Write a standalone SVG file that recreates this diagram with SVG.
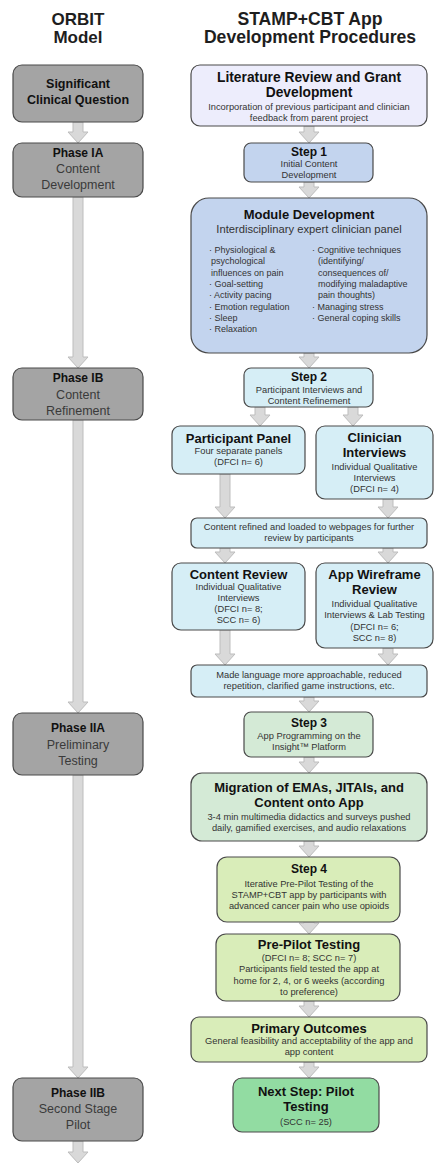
<svg xmlns="http://www.w3.org/2000/svg" width="435" height="1165" viewBox="0 0 435 1165">
  <style>
    text { font-family: "Liberation Sans", Arial, sans-serif; text-anchor: middle; fill: #2a2a2a; }
    .hdr { font-size: 17px; font-weight: bold; fill: #1e1e1e; }
    .box { stroke: #4a4a4a; stroke-width: 1.2; }
    .orbit { fill: #a4a4a4; }
    .lit { fill: #ededfc; }
    .blue { fill: #c3d4ee; }
    .cyan { fill: #d6eef6; }
    .mint { fill: #d4ead6; }
    .lime { fill: #d9edb9; }
    .green { fill: #92dca2; }
    .ph { font-size: 12px; font-weight: bold; fill: #111; }
    .pl { font-size: 12.5px; fill: #3a3a3a; }
    .t1 { font-size: 12px; font-weight: bold; fill: #111; }
    .t2 { font-size: 13px; font-weight: bold; fill: #111; }
    .sub { font-size: 9.3px; fill: #333; }
    .mid { font-size: 11.2px; fill: #333; }
    .bl { font-size: 9px; fill: #333; text-anchor: start; }
    .arrow { fill: #d9d9d9; stroke: #bdbdbd; stroke-width: 1; }
  </style>

  <!-- column headings -->
  <text class="hdr" x="78" y="25">ORBIT</text>
  <text class="hdr" x="78" y="43">Model</text>
  <text class="hdr" x="310" y="25" style="font-size:17.6px">STAMP+CBT App</text>
  <text class="hdr" x="310" y="43" style="font-size:17.6px">Development Procedures</text>

  <!-- block arrows: shaft 10 wide, head 20 wide -->
  <g id="connectors">
    <path class="arrow" d="M73 122V132H68L78 143L88 132H83V122Z"/>
    <path class="arrow" d="M73 197V357H68L78 368L88 357H83V197Z"/>
    <path class="arrow" d="M73 420V702H68L78 713L88 702H83V420Z"/>
    <path class="arrow" d="M73 775V1067H68L78 1078L88 1067H83V775Z"/>
    <path class="arrow" d="M73 1141V1152H68L78 1163L88 1152H83V1141Z"/>

    <path class="arrow" d="M304 126V132H299L309 143L319 132H314V126Z"/>
    <path class="arrow" d="M304 182V187H299L309 198L319 187H314V182Z"/>
    <path class="arrow" d="M304 353V357H299L309 368L319 357H314V353Z"/>
    <path class="arrow" d="M255 407V415H250L260 426L270 415H265V407Z"/>
    <path class="arrow" d="M348 407V415H343L353 426L363 415H358V407Z"/>
    <path class="arrow" d="M220 474V507H215L225 518L235 507H230V474Z"/>
    <path class="arrow" d="M383 499V507H378L388 518L398 507H393V499Z"/>
    <path class="arrow" d="M220 548V552H215L225 563L235 552H230V548Z"/>
    <path class="arrow" d="M383 548V552H378L388 563L398 552H393V548Z"/>
    <path class="arrow" d="M220 630V654H215L225 665L235 654H230V630Z"/>
    <path class="arrow" d="M383 648V654H378L388 665L398 654H393V648Z"/>
    <path class="arrow" d="M304 697V701H299L309 712L319 701H314V697Z"/>
    <path class="arrow" d="M304 757V762H299L309 773L319 762H314V757Z"/>
    <path class="arrow" d="M304 841V846H299L309 857L319 846H314V841Z"/>
    <path class="arrow" d="M304 922V923H299L309 934L319 923H314V922Z"/>
    <path class="arrow" d="M304 1001V1006H299L309 1017L319 1006H314V1001Z"/>
    <path class="arrow" d="M304 1062V1067H299L309 1078L319 1067H314V1062Z"/>
  </g>

  <!-- ORBIT model column -->
  <g id="orbit-question">
    <rect class="box orbit" x="13" y="65" width="130" height="57" rx="9"/>
    <text x="78" y="88" style="font-size:12.5px;font-weight:bold;fill:#111">Significant</text>
    <text x="78" y="104" style="font-size:12.5px;font-weight:bold;fill:#111">Clinical Question</text>
  </g>
  <g id="orbit-phase-1a">
    <rect class="box orbit" x="13" y="143" width="130" height="54" rx="9"/>
    <text class="ph" x="78" y="157">Phase IA</text>
    <text class="pl" x="78" y="173">Content</text>
    <text class="pl" x="78" y="189">Development</text>
  </g>
  <g id="orbit-phase-1b">
    <rect class="box orbit" x="13" y="368" width="130" height="52" rx="9"/>
    <text class="ph" x="78" y="382">Phase IB</text>
    <text class="pl" x="78" y="399">Content</text>
    <text class="pl" x="78" y="415">Refinement</text>
  </g>
  <g id="orbit-phase-2a">
    <rect class="box orbit" x="13" y="713" width="130" height="62" rx="9"/>
    <text class="ph" x="78" y="732">Phase IIA</text>
    <text class="pl" x="78" y="749">Preliminary</text>
    <text class="pl" x="78" y="765">Testing</text>
  </g>
  <g id="orbit-phase-2b">
    <rect class="box orbit" x="13" y="1078" width="130" height="63" rx="9"/>
    <text class="ph" x="78" y="1097">Phase IIB</text>
    <text class="pl" x="78" y="1113">Second Stage</text>
    <text class="pl" x="78" y="1129">Pilot</text>
  </g>

  <!-- STAMP+CBT development column -->
  <g id="literature-review">
    <rect class="box lit" x="191" y="65" width="236" height="61" rx="9"/>
    <text class="t2" x="309" y="82" style="font-size:13.8px">Literature Review and Grant</text>
    <text class="t2" x="309" y="97" style="font-size:13.8px">Development</text>
    <text class="sub" x="309" y="110">Incorporation of previous participant and clinician</text>
    <text class="sub" x="309" y="121">feedback from parent project</text>
  </g>
  <g id="step-1">
    <rect class="box blue" x="244" y="143" width="129" height="39" rx="7"/>
    <text class="t1" x="309" y="156">Step 1</text>
    <text class="sub" x="309" y="167">Initial Content</text>
    <text class="sub" x="309" y="178">Development</text>
  </g>
  <g id="module-development">
    <rect class="box blue" x="191" y="198" width="236" height="155" rx="18"/>
    <text class="t2" x="309" y="219">Module Development</text>
    <text class="mid" x="309" y="233">Interdisciplinary expert clinician panel</text>
    <text class="bl" x="209" y="253">· Physiological &amp;</text>
    <text class="bl" x="211" y="264">psychological</text>
    <text class="bl" x="211" y="276">influences on pain</text>
    <text class="bl" x="209" y="287">· Goal-setting</text>
    <text class="bl" x="209" y="298">· Activity pacing</text>
    <text class="bl" x="209" y="310">· Emotion regulation</text>
    <text class="bl" x="209" y="321">· Sleep</text>
    <text class="bl" x="209" y="332">· Relaxation</text>
    <text class="bl" x="312" y="253">· Cognitive techniques</text>
    <text class="bl" x="318" y="264">(identifying/</text>
    <text class="bl" x="318" y="276">consequences of/</text>
    <text class="bl" x="318" y="287">modifying maladaptive</text>
    <text class="bl" x="318" y="298">pain thoughts)</text>
    <text class="bl" x="312" y="310">· Managing stress</text>
    <text class="bl" x="312" y="321">· General coping skills</text>
  </g>
  <g id="step-2">
    <rect class="box cyan" x="244" y="368" width="129" height="39" rx="7"/>
    <text class="t1" x="309" y="381">Step 2</text>
    <text class="sub" x="309" y="393">Participant Interviews and</text>
    <text class="sub" x="309" y="404">Content Refinement</text>
  </g>
  <g id="participant-panel">
    <rect class="box cyan" x="172" y="426" width="133" height="48" rx="8"/>
    <text class="t2" x="238.5" y="443">Participant Panel</text>
    <text class="sub" x="238.5" y="454">Four separate panels</text>
    <text class="sub" x="238.5" y="465">(DFCI n= 6)</text>
  </g>
  <g id="clinician-interviews">
    <rect class="box cyan" x="316" y="426" width="117" height="73" rx="9"/>
    <text class="t2" x="374.5" y="442">Clinician</text>
    <text class="t2" x="374.5" y="457">Interviews</text>
    <text class="sub" x="374.5" y="470">Individual Qualitative</text>
    <text class="sub" x="374.5" y="481">Interviews</text>
    <text class="sub" x="374.5" y="492">(DFCI n= 4)</text>
  </g>
  <g id="content-refined">
    <rect class="box cyan" x="191" y="518" width="236" height="30" rx="6"/>
    <text class="sub" x="309" y="530">Content refined and loaded to webpages for further</text>
    <text class="sub" x="309" y="541">review by participants</text>
  </g>
  <g id="content-review">
    <rect class="box cyan" x="172" y="563" width="133" height="67" rx="9"/>
    <text class="t2" x="238.5" y="579">Content Review</text>
    <text class="sub" x="238.5" y="590">Individual Qualitative</text>
    <text class="sub" x="238.5" y="601">Interviews</text>
    <text class="sub" x="238.5" y="612">(DFCI n= 8;</text>
    <text class="sub" x="238.5" y="623">SCC n= 6)</text>
  </g>
  <g id="wireframe-review">
    <rect class="box cyan" x="316" y="563" width="117" height="85" rx="9"/>
    <text class="t2" x="374.5" y="579">App Wireframe</text>
    <text class="t2" x="374.5" y="594">Review</text>
    <text class="sub" x="374.5" y="607">Individual Qualitative</text>
    <text class="sub" x="374.5" y="618">Interviews &amp; Lab Testing</text>
    <text class="sub" x="374.5" y="630">(DFCI n= 6;</text>
    <text class="sub" x="374.5" y="641">SCC n= 8)</text>
  </g>
  <g id="language-revisions">
    <rect class="box cyan" x="191" y="665" width="236" height="32" rx="6"/>
    <text class="sub" x="309" y="678">Made language more approachable, reduced</text>
    <text class="sub" x="309" y="689">repetition, clarified game instructions, etc.</text>
  </g>
  <g id="step-3">
    <rect class="box mint" x="244" y="712" width="129" height="45" rx="7"/>
    <text class="t1" x="309" y="727">Step 3</text>
    <text class="sub" x="309" y="739">App Programming on the</text>
    <text class="sub" x="309" y="750">Insight™ Platform</text>
  </g>
  <g id="migration">
    <rect class="box mint" x="191" y="773" width="236" height="68" rx="11"/>
    <text class="t2" x="309" y="792">Migration of EMAs, JITAIs, and</text>
    <text class="t2" x="309" y="807">Content onto App</text>
    <text class="sub" x="309" y="820">3-4 min multimedia didactics and surveys pushed</text>
    <text class="sub" x="309" y="831">daily, gamified exercises, and audio relaxations</text>
  </g>
  <g id="step-4">
    <rect class="box lime" x="217" y="857" width="183" height="65" rx="10"/>
    <text class="t1" x="309" y="873">Step 4</text>
    <text class="sub" x="309" y="887">Iterative Pre-Pilot Testing of the</text>
    <text class="sub" x="309" y="898">STAMP+CBT app by participants with</text>
    <text class="sub" x="309" y="909">advanced cancer pain who use opioids</text>
  </g>
  <g id="pre-pilot-testing">
    <rect class="box lime" x="216" y="934" width="184" height="67" rx="10"/>
    <text class="t2" x="309" y="949">Pre-Pilot Testing</text>
    <text class="sub" x="309" y="961">(DFCI n= 8; SCC n= 7)</text>
    <text class="sub" x="309" y="972">Participants field tested the app at</text>
    <text class="sub" x="309" y="984">home for 2, 4, or 6 weeks (according</text>
    <text class="sub" x="309" y="995">to preference)</text>
  </g>
  <g id="primary-outcomes">
    <rect class="box lime" x="191" y="1017" width="236" height="45" rx="8"/>
    <text class="t2" x="309" y="1033">Primary Outcomes</text>
    <text class="sub" x="309" y="1044">General feasibility and acceptability of the app and</text>
    <text class="sub" x="309" y="1055">app content</text>
  </g>
  <g id="pilot-testing">
    <rect class="box green" x="233" y="1078" width="146" height="54" rx="9"/>
    <text class="t2" x="306" y="1096">Next Step: Pilot</text>
    <text class="t2" x="306" y="1111">Testing</text>
    <text class="sub" x="306" y="1125">(SCC n= 25)</text>
  </g>
</svg>
